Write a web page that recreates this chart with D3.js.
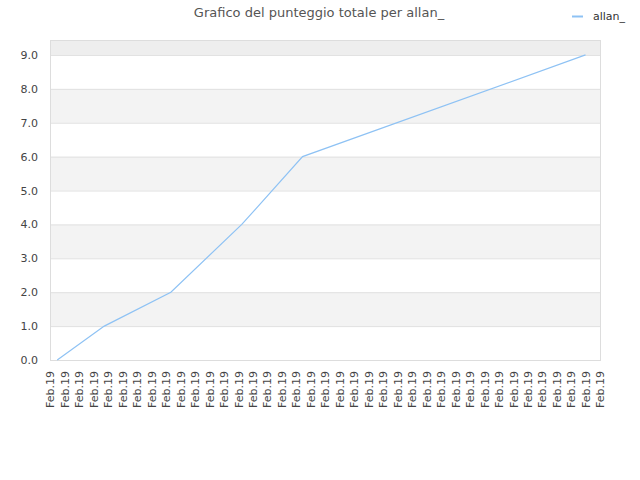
<!DOCTYPE html>
<html>
<head>
<meta charset="utf-8">
<script src="https://cdn.jsdelivr.net/npm/d3@7"></script>
<style>
    body { margin: 0; background: #fff; }
    text { font-family: "DejaVu Sans", sans-serif; }
</style>
</head>
<body>
<svg id="chart" width="640" height="480"></svg>
<script>
// data
const title = 'Grafico del punteggio totale per allan_';
const seriesName = 'allan_';
const xLabels = d3.range(39).map(() => 'Feb.19');   // 39 identical date labels
const pointPos = [0.5, 3.75, 8.35, 13.25, 17.45, 37];   // position along the label axis
const pointVal = [0, 1, 2, 4, 6, 9];
const yTicks = [0, 1, 2, 3, 4, 5, 6, 7, 8, 9];

let plotLeft = 50, plotRight = 600, plotTop = 40, plotBottom = 360;

let svg = d3.select('#chart');

let xScale = d3.scaleLinear().domain([0, xLabels.length - 1]).range([plotLeft, plotRight]);
let yScale = d3.scaleLinear().domain([0, 9.44]).range([plotBottom, plotTop]);

// alternating bands
let bands = d3.range(0, 10).map((d) => [d, Math.min(d + 1, yScale.domain()[1])]);
svg.append('g').selectAll('rect')
    .data(bands)
    .enter()
    .append('rect')
    .attr('x', plotLeft)
    .attr('width', plotRight - plotLeft)
    .attr('y', (d) => yScale(d[1]))
    .attr('height', (d) => yScale(d[0]) - yScale(d[1]))
    .attr('fill', (d) => d[0] == 9 ? '#eeeeee' : (d[0] % 2 ? '#f3f3f3' : '#ffffff'));

// grid lines
svg.append('g').selectAll('line')
    .data(yTicks)
    .enter()
    .append('line')
    .attr('x1', plotLeft)
    .attr('x2', plotRight)
    .attr('y1', (d) => yScale(d) + 0.5)
    .attr('y2', (d) => yScale(d) + 0.5)
    .attr('stroke', '#e0e0e0');

// frame
svg.append('rect')
    .attr('x', plotLeft + 0.5)
    .attr('y', plotTop + 0.5)
    .attr('width', plotRight - plotLeft)
    .attr('height', plotBottom - plotTop)
    .attr('fill', 'none')
    .attr('stroke', '#dddddd');

// y axis
let yAxis = d3.axisLeft(yScale)
    .tickValues(yTicks)
    .tickFormat(d3.format('.1f'))
    .tickSize(0)
    .tickPadding(12);
let gy = svg.append('g').attr('transform', `translate(${plotLeft},0)`).call(yAxis);
gy.select('.domain').remove();
gy.selectAll('text').style('font-size', '11px').attr('fill', '#444');

// x axis
let xAxis = d3.axisBottom(xScale)
    .tickValues(d3.range(xLabels.length))
    .tickFormat((i) => xLabels[i])
    .tickSize(0);
let gx = svg.append('g').attr('transform', `translate(0,${plotBottom})`).call(xAxis);
gx.select('.domain').remove();
gx.selectAll('text')
    .style('font-size', '11px')
    .attr('fill', '#444')
    .attr('transform', 'rotate(-90)')
    .attr('text-anchor', 'end')
    .attr('x', -11)
    .attr('y', 0)
    .attr('dy', '0.35em');

// series line
let line = d3.line()
    .x((d) => xScale(d[0]))
    .y((d) => yScale(d[1]));
svg.append('path')
    .datum(d3.zip(pointPos, pointVal))
    .attr('d', line)
    .attr('fill', 'none')
    .attr('stroke', '#8ec2f4')
    .attr('stroke-width', 1.2);

// title
svg.append('text')
    .attr('x', 319)
    .attr('y', 17)
    .attr('text-anchor', 'middle')
    .style('font-size', '13px')
    .attr('fill', '#555')
    .text(title);

// legend
svg.append('line')
    .attr('x1', 572).attr('x2', 583)
    .attr('y1', 16.5).attr('y2', 16.5)
    .attr('stroke', '#8ec2f4')
    .attr('stroke-width', 2);
svg.append('text')
    .attr('x', 593)
    .attr('y', 20)
    .style('font-size', '11px')
    .attr('fill', '#333')
    .text(seriesName);
</script>
</body>
</html>
